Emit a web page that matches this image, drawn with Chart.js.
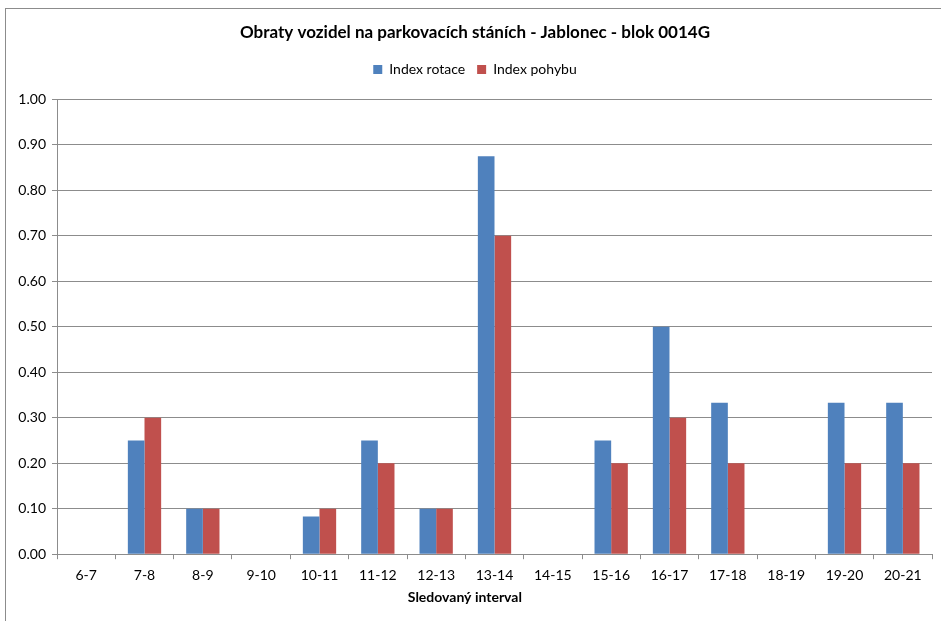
<!DOCTYPE html>
<html>
<head>
<meta charset="utf-8">
<script src="https://cdn.jsdelivr.net/npm/chart.js@4.4.1/dist/chart.umd.min.js"></script>
<style>
  html, body { margin: 0; padding: 0; background: #fff; }
  #wrap { position: relative; width: 941px; height: 621px; overflow: hidden; }
  #frame { position: absolute; left: 5px; top: 8px; width: 960px; height: 700px; border: 1px solid #8c8c8c; box-sizing: border-box; }
  canvas { position: absolute; left: 0; top: 0; }
</style>
</head>
<body>
<div id="wrap">
  <div id="frame"></div>
  <canvas id="c" width="941" height="621"></canvas>
</div>
<script>
const chartTitle = 'Obraty vozidel na parkovacích stáních - Jablonec - blok 0014G';
const xAxisTitle = 'Sledovaný interval';
const categories = ['6-7','7-8','8-9','9-10','10-11','11-12','12-13','13-14','14-15','15-16','16-17','17-18','18-19','19-20','20-21'];
const seriesNames = ['Index rotace', 'Index pohybu'];
const indexRotace = [0, 0.25, 0.10, 0, 0.083, 0.25, 0.10, 0.875, 0, 0.25, 0.50, 0.333, 0, 0.333, 0.333];
const indexPohybu = [0, 0.30, 0.10, 0, 0.10, 0.20, 0.10, 0.70, 0, 0.20, 0.30, 0.20, 0, 0.20, 0.20];
const yMin = 0, yMax = 1, yStep = 0.1;

const FONT = 'Lato, "Open Sans", sans-serif';
const GRID = '#8c8c8c';

const xTitlePlugin = {
  id: 'xTitle',
  afterInit(chart) {
    const lg = chart.legend;
    if (lg && !lg._patched) {
      const orig = lg.fit;
      lg.fit = function () { orig.call(this); this.height += 13; };
      lg._patched = true;
    }
  },
  afterDraw(chart) {
    const ctx = chart.ctx;
    const xs = chart.scales.x;
    ctx.save();
    ctx.font = 'bold 14px ' + FONT;
    ctx.fillStyle = '#000';
    ctx.textAlign = 'center';
    ctx.textBaseline = 'middle';
    ctx.fillText(xAxisTitle, chart.width * 0.494, xs.bottom + 5);
    ctx.restore();
  }
};

new Chart(document.getElementById('c'), {
  type: 'bar',
  data: {
    labels: categories,
    datasets: [
      { label: seriesNames[0], data: indexRotace, backgroundColor: '#4F81BD', categoryPercentage: 0.571, barPercentage: 1.0 },
      { label: seriesNames[1], data: indexPohybu, backgroundColor: '#C0504D', categoryPercentage: 0.571, barPercentage: 1.0 }
    ]
  },
  options: {
    responsive: false,
    animation: false,
    layout: { padding: { left: 18, right: 9, top: 14, bottom: 29 } },
    plugins: {
      title: {
        display: true, text: chartTitle, color: '#000',
        font: { family: FONT, size: 17, weight: 'bold' },
        padding: { top: 8, bottom: 8 }
      },
      legend: {
        display: true, position: 'top',
        labels: { boxWidth: 9, boxHeight: 9, color: '#000', font: { family: FONT, size: 14 }, padding: 12 }
      },
      tooltip: { enabled: false }
    },
    scales: {
      x: {
        grid: { display: true, drawOnChartArea: false, drawTicks: true, tickLength: 5, color: GRID, offset: true },
        border: { display: true, color: GRID },
        ticks: { color: '#000', font: { family: FONT, size: 14 }, padding: 8, maxRotation: 0, autoSkip: false }
      },
      y: {
        min: yMin, max: yMax,
        afterFit(scale) { scale.width = 39; },
        grid: { color: GRID, tickLength: 5, drawTicks: true },
        border: { display: true, color: GRID },
        ticks: { stepSize: yStep, color: '#000', font: { family: FONT, size: 14 }, padding: 6,
          callback: (v) => Number(v).toFixed(2) }
      }
    }
  },
  plugins: [xTitlePlugin]
});
</script>
</body>
</html>
